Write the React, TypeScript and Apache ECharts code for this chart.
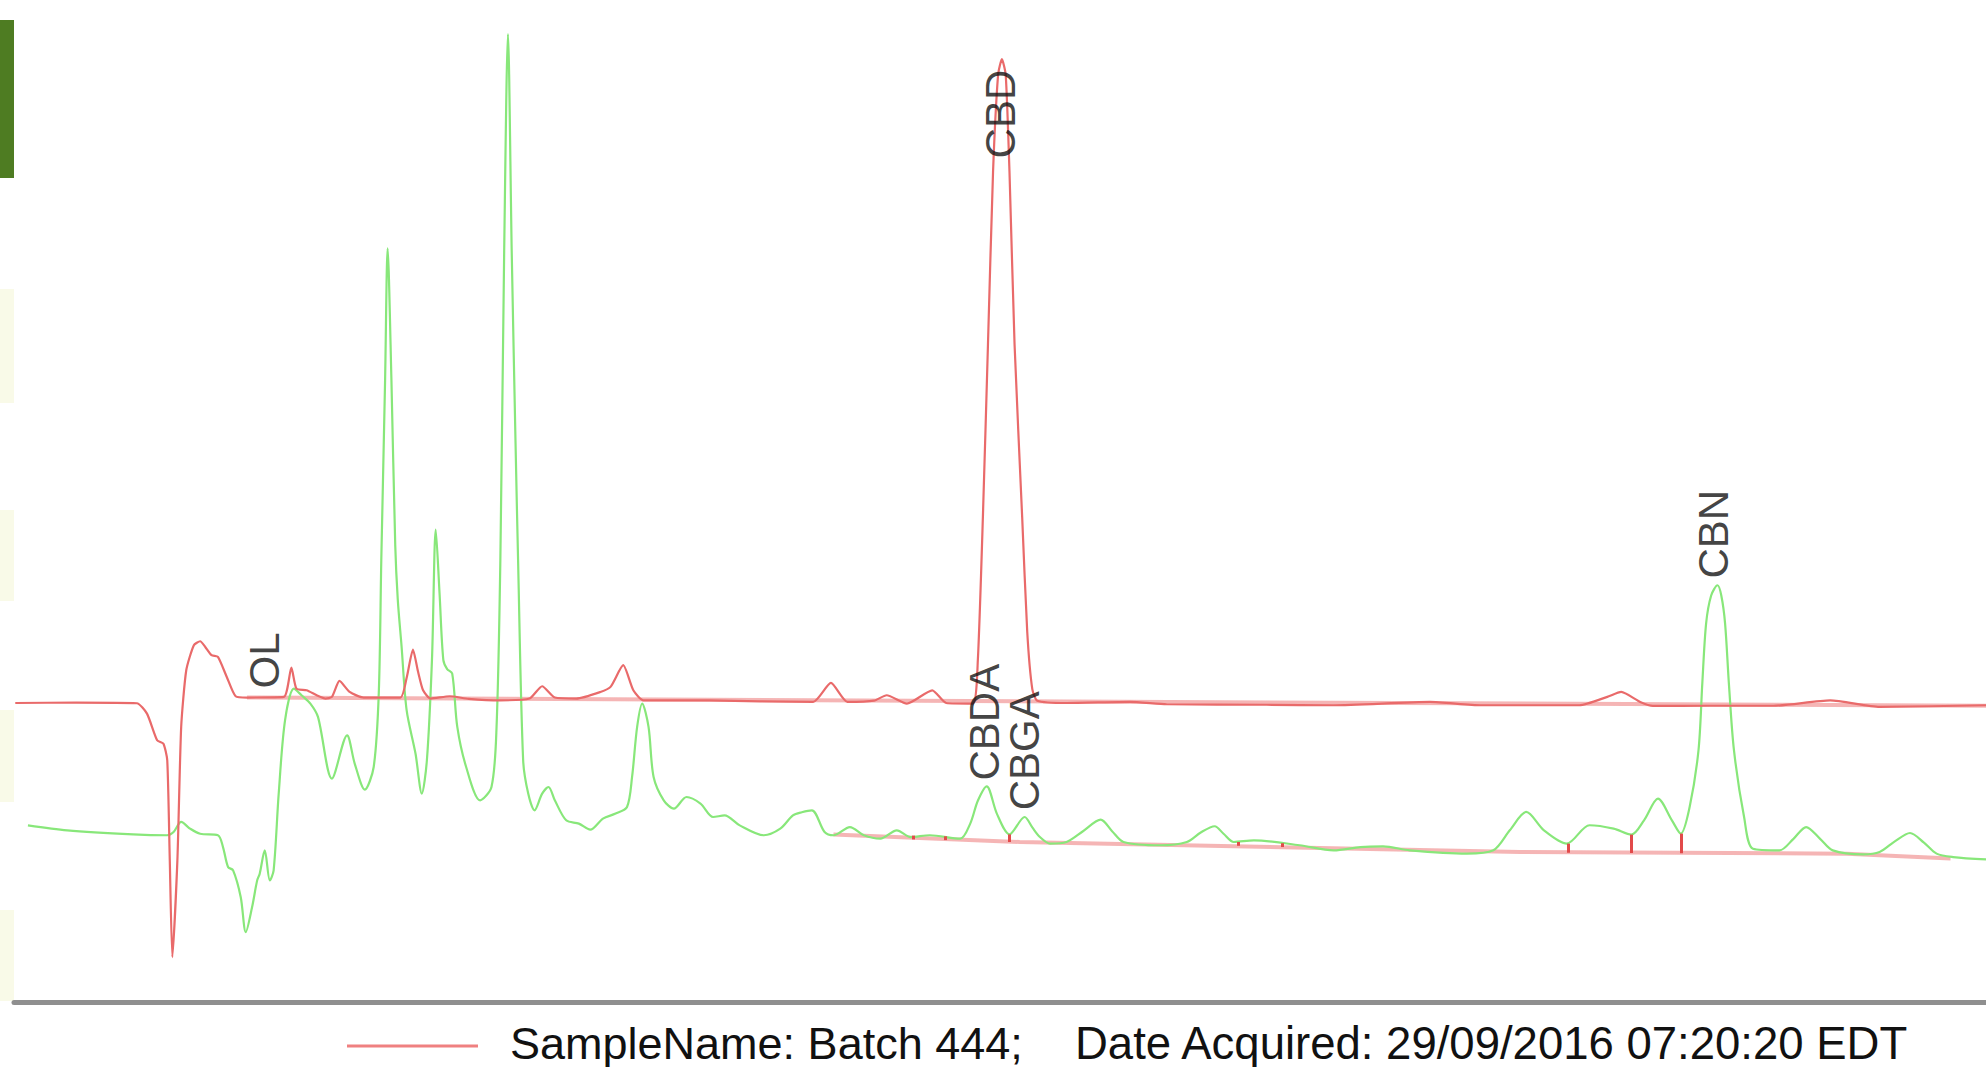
import React, { useEffect, useRef } from "react";
import * as echarts from "echarts";

// Retention time (min) vs response (mAU)
const sampleTrace: [number, number][] = [
  [0.12, 23.52], [0.6, 23.55], [1.08, 23.5], [1.16, 22.68], [1.24, 20.58], [1.29, 20.31], [1.32, 19.0],
  [1.34, 11.1], [1.36, 3.47], [1.4, 11.1], [1.43, 21.63], [1.47, 26.1], [1.53, 28.08], [1.58, 28.39],
  [1.62, 27.94], [1.67, 27.29], [1.72, 27.15], [1.79, 25.57], [1.86, 24.05], [1.95, 23.95], [2.24, 24.0],
  [2.3, 26.31], [2.34, 24.65], [2.42, 24.52], [2.5, 24.13], [2.57, 23.87], [2.62, 24.0], [2.68, 25.26],
  [2.76, 24.39], [2.87, 23.95], [3.16, 23.95], [3.21, 25.5], [3.26, 27.73], [3.3, 26.0], [3.34, 24.52],
  [3.4, 23.87], [3.55, 24.05], [3.7, 23.85], [3.95, 23.73], [4.18, 23.87], [4.28, 24.84], [4.38, 23.95],
  [4.55, 23.87], [4.74, 24.39], [4.82, 24.79], [4.92, 26.5], [5.0, 24.52], [5.08, 23.73], [5.6, 23.72],
  [6.0, 23.65], [6.42, 23.6], [6.56, 25.1], [6.69, 23.6], [6.9, 23.7], [7.0, 24.13], [7.16, 23.47],
  [7.36, 24.52], [7.47, 23.52], [7.68, 23.47], [7.72, 26.9], [7.76, 38.21], [7.8, 51.81], [7.84, 65.4],
  [7.88, 73.11], [7.91, 74.33], [7.94, 73.11], [7.97, 65.4], [8.01, 51.81], [8.07, 38.21], [8.11, 29.14],
  [8.15, 24.61], [8.19, 23.7], [8.42, 23.52], [8.92, 23.6], [9.21, 23.42], [10.0, 23.38], [10.53, 23.34],
  [11.29, 23.6], [11.69, 23.34], [12.47, 23.34], [12.69, 24.0], [12.8, 24.39], [12.95, 23.6], [13.05, 23.29],
  [13.5, 23.3], [14.0, 23.3], [14.45, 23.73], [14.84, 23.21], [15.68, 23.34],
];

const standardTrace: [number, number][] = [
  [0.22, 13.86], [0.53, 13.47], [1.05, 13.15], [1.32, 13.08], [1.37, 13.34], [1.43, 14.13], [1.5, 13.6],
  [1.58, 13.2], [1.72, 13.08], [1.76, 12.15], [1.8, 10.58], [1.84, 10.31], [1.9, 8.21], [1.94, 5.44],
  [1.99, 7.42], [2.03, 9.52], [2.05, 10.05], [2.09, 11.89], [2.13, 9.52], [2.16, 10.31], [2.2, 16.36],
  [2.25, 22.15], [2.32, 24.65], [2.38, 24.13], [2.45, 23.47], [2.51, 22.42], [2.62, 17.55], [2.74, 20.97],
  [2.8, 18.74], [2.88, 16.68], [2.95, 18.47], [2.99, 24.26], [3.01, 34.8], [3.04, 49.0], [3.06, 59.4],
  [3.09, 49.0], [3.12, 36.0], [3.14, 31.7], [3.17, 28.0], [3.21, 22.95], [3.28, 19.53], [3.33, 16.37],
  [3.37, 19.0], [3.41, 26.9], [3.44, 37.2], [3.47, 32.16], [3.5, 26.9], [3.53, 26.2], [3.57, 25.84],
  [3.61, 21.63], [3.68, 18.47], [3.79, 15.84], [3.88, 16.89], [3.92, 21.63], [3.95, 34.79], [3.98, 59.0],
  [4.01, 76.3], [4.04, 59.0], [4.07, 44.0], [4.09, 34.79], [4.13, 19.0], [4.17, 16.37], [4.22, 15.05],
  [4.28, 16.37], [4.33, 16.89], [4.38, 15.84], [4.47, 14.26], [4.57, 14.0], [4.66, 13.52], [4.76, 14.39],
  [4.86, 14.79], [4.95, 15.31], [4.99, 17.68], [5.03, 21.63], [5.07, 23.47], [5.12, 21.63], [5.16, 17.68],
  [5.24, 15.84], [5.32, 15.18], [5.42, 16.1], [5.53, 15.58], [5.63, 14.52], [5.72, 14.65], [5.84, 13.86],
  [6.03, 13.08], [6.16, 13.6], [6.26, 14.65], [6.33, 14.9], [6.41, 15.05], [6.51, 13.34], [6.58, 13.08],
  [6.71, 13.73], [6.82, 13.08], [6.95, 12.81], [7.08, 13.47], [7.19, 12.94], [7.34, 13.08], [7.58, 12.81],
  [7.66, 14.0], [7.72, 15.8], [7.79, 16.94], [7.87, 14.79], [7.97, 13.15], [8.09, 14.52], [8.15, 13.7],
  [8.21, 12.94], [8.29, 12.42], [8.42, 12.55], [8.55, 13.4], [8.69, 14.31], [8.78, 13.4], [8.87, 12.55],
  [9.16, 12.29], [9.37, 12.55], [9.48, 13.3], [9.59, 13.79], [9.66, 13.2], [9.74, 12.55], [9.9, 12.68],
  [10.26, 12.29], [10.53, 11.89], [10.74, 12.15], [10.92, 12.2], [11.13, 11.89], [11.58, 11.63],
  [11.79, 11.89], [11.92, 13.47], [12.05, 14.92], [12.19, 13.47], [12.37, 12.42], [12.55, 13.87],
  [12.74, 13.6], [12.88, 13.13], [12.98, 14.26], [13.09, 15.97], [13.2, 14.26], [13.27, 13.21],
  [13.34, 15.31], [13.41, 19.79], [13.44, 25.05], [13.47, 29.79], [13.51, 32.0], [13.56, 32.81],
  [13.59, 32.0], [13.62, 29.79], [13.65, 25.05], [13.69, 19.79], [13.77, 14.52], [13.84, 12.02],
  [14.05, 11.89], [14.16, 12.8], [14.26, 13.73], [14.37, 12.8], [14.47, 11.89], [14.71, 11.57],
  [14.84, 11.76], [14.96, 12.6], [15.08, 13.26], [15.19, 12.5], [15.29, 11.63], [15.42, 11.36], [15.68, 11.18],
];

const sampleBaseline: [number, number][] = [[1.95, 23.95], [15.68, 23.3]];
const standardBaseline: [number, number][] = [[6.58, 13.15], [8.05, 12.55], [12.0, 11.76], [14.58, 11.63], [15.4, 11.24]];

const dropX = [7.21, 7.46, 7.97, 9.78, 10.12, 12.38, 12.88, 13.27];
const dropLow = [12.75, 12.7, 12.55, 12.25, 12.15, 11.7, 11.68, 11.66];
const dropHigh = [13.05, 13.0, 13.15, 12.55, 12.45, 12.42, 13.13, 13.21];

const peakNames = ["OL", "CBD", "CBDA", "CBGA", "CBN"];
const peakX = [2.09, 7.895, 7.77, 8.086, 13.53];
const peakY = [24.66, 66.5, 17.4, 15.05, 33.34];

const legendLabelA = "SampleName: Batch 444;";
const legendLabelB = "Date Acquired: 29/09/2016 07:20:20 EDT";

const RED = "#e96a6a";
const GREEN = "#88e77a";
const FONT = "'Liberation Sans', Arial, Helvetica, sans-serif";

export default function App() {
  const ref = useRef<HTMLDivElement>(null);
  useEffect(() => {
    if (!ref.current) return;
    const chart = echarts.init(ref.current, undefined, { renderer: "svg" });
    const option: any = {
      animation: false,
      backgroundColor: "#ffffff",
      grid: { left: 14, right: 0, top: 0, bottom: 66 },
      xAxis: {
        type: "value",
        min: 0.11,
        max: 15.68,
        offset: 1,
        axisLine: { show: true, onZero: false, lineStyle: { color: "#8f8f8f", width: 5 } },
        axisTick: { show: false },
        axisLabel: { show: false },
        splitLine: { show: false },
      },
      yAxis: {
        type: "value",
        min: 0,
        max: 79,
        show: false,
        splitLine: { show: false },
      },
      series: [
        {
          type: "line",
          name: "sampleBaseline",
          data: sampleBaseline,
          showSymbol: false,
          symbol: "none",
          lineStyle: { color: "rgba(233,90,90,0.45)", width: 4 },
          silent: true,
          z: 1,
        },
        {
          type: "line",
          name: "standardBaseline",
          data: standardBaseline,
          showSymbol: false,
          symbol: "none",
          lineStyle: { color: "rgba(233,90,90,0.45)", width: 4 },
          silent: true,
          z: 1,
        },
        {
          type: "line",
          name: "Standard",
          data: standardTrace,
          showSymbol: false,
          symbol: "none",
          smooth: 0.3,
          lineStyle: { color: GREEN, width: 2.2 },
          silent: true,
          z: 2,
          markLine: {
            silent: true,
            symbol: "none",
            label: { show: false },
            lineStyle: { color: "#e24a4a", width: 3, type: "solid" },
            data: dropX.map((x, i) => [{ coord: [x, dropLow[i]] }, { coord: [x, dropHigh[i]] }]),
          },
        },
        {
          type: "line",
          name: legendLabelA + " " + legendLabelB,
          data: sampleTrace,
          showSymbol: false,
          symbol: "none",
          smooth: 0.2,
          lineStyle: { color: RED, width: 2.2 },
          silent: true,
          z: 3,
        },
        {
          type: "scatter",
          name: "peaks",
          data: peakNames.map((n, i) => ({ name: n, value: [peakX[i], peakY[i]] })),
          symbolSize: 1,
          itemStyle: { color: "transparent" },
          silent: true,
          z: 5,
          label: {
            show: true,
            position: "inside",
            rotate: 90,
            align: "left",
            verticalAlign: "middle",
            formatter: (p: any) => p.name,
            fontSize: 42,
            fontFamily: FONT,
            color: "#111111",
          },
        },
      ],
      graphic: [
        { type: "rect", left: 0, top: 20, shape: { width: 14, height: 158 }, style: { fill: "#4e7c22" } },
        { type: "rect", left: 0, top: 289, shape: { width: 14, height: 114 }, style: { fill: "#f9fae8" } },
        { type: "rect", left: 0, top: 510, shape: { width: 14, height: 91 }, style: { fill: "#f9fae8" } },
        { type: "rect", left: 0, top: 710, shape: { width: 14, height: 92 }, style: { fill: "#f9fae8" } },
        { type: "rect", left: 0, top: 910, shape: { width: 14, height: 91 }, style: { fill: "#f9fae8" } },
        { type: "line", shape: { x1: 347, y1: 1046, x2: 478, y2: 1046 }, style: { stroke: "#ef8080", lineWidth: 3 } },
        {
          type: "text",
          x: 510,
          y: 1043,
          style: { text: legendLabelA, fontSize: 45, lineHeight: 44, fontFamily: FONT, fill: "#111111", verticalAlign: "middle" },
        },
        {
          type: "text",
          x: 1075,
          y: 1043,
          style: { text: legendLabelB, fontSize: 45.5, lineHeight: 44, fontFamily: FONT, fill: "#111111", verticalAlign: "middle" },
        },
      ],
    };
    chart.setOption(option);
    return () => chart.dispose();
  }, []);
  return (
    <div
      ref={ref}
      style={{ position: "fixed", left: 0, top: 0, width: 1986, height: 1067, background: "#fff" }}
    />
  );
}
